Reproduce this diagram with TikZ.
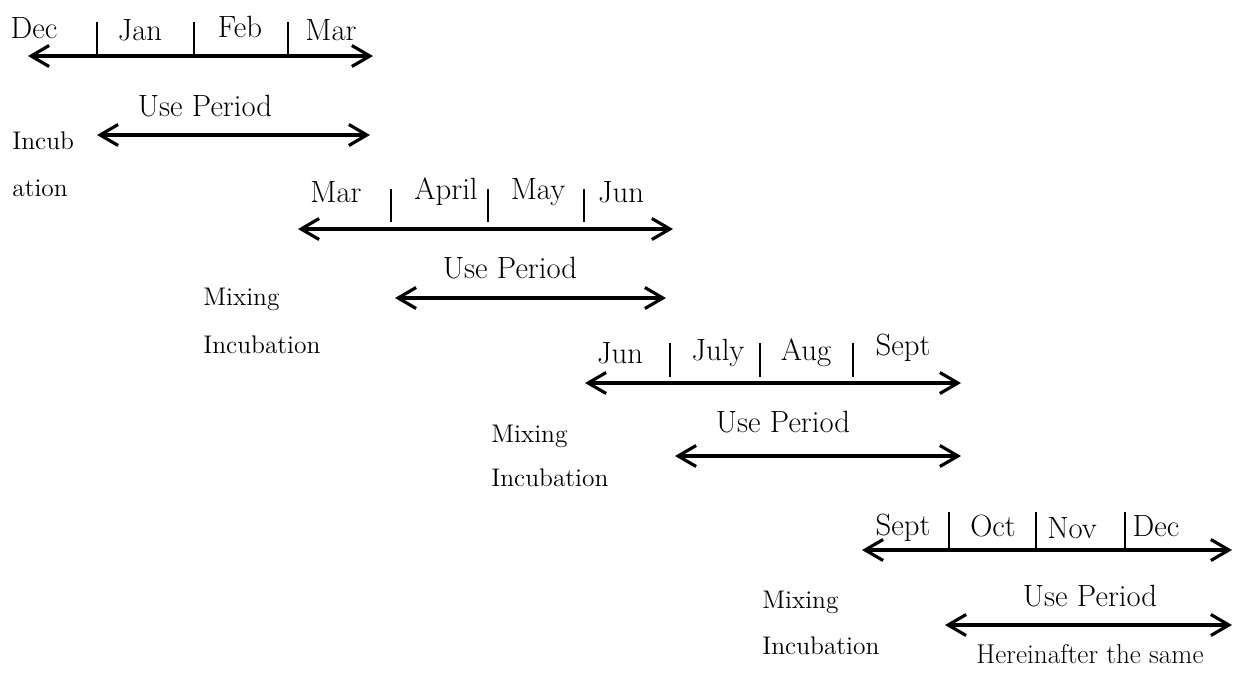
\documentclass[tikz,border=0pt]{standalone}
\usepackage{tikz}
\usetikzlibrary{arrows.meta,positioning}

\begin{document}
\begin{tikzpicture}[
      x=0.02cm, y=-0.02cm,
      mes/.style={font=\fontsize{17.5}{21}\selectfont, inner sep=1pt},
      uso/.style={font=\fontsize{17.5}{21}\selectfont, inner sep=1pt},
      nota/.style={font=\fontsize{15.5}{18}\selectfont, inner sep=1pt},
      rotulo/.style={font=\fontsize{14.5}{17}\selectfont, anchor=west, inner sep=0pt},
      seta/.style={{Straight Barb[length=3.6mm,width=4.2mm]}-{Straight Barb[length=3.6mm,width=4.2mm]}, line width=1.8pt},
      marca/.style={line width=1.1pt}
  ]
      \useasboundingbox (0,0) rectangle (1233,677);

      % --- DEC - MAR ---
      \coordinate (a1) at (28,56);  \coordinate (b1) at (373,56);
      \draw[seta] (a1) -- (b1);
      \foreach \x [count=\i] in {97,194,288} {
          \coordinate (t1\i) at (\x,22);
          \draw[marca] (t1\i) -- (t1\i |- a1);
      }
      \node[mes] (m11) at (34,28)  {Dec};
      \node[mes] (m12) at (140,30) {Jan};
      \node[mes] (m13) at (240,27) {Feb};
      \node[mes] (m14) at (331,30) {Mar};
      \node[uso] (u1) at (205,106) {Use Period};
      \coordinate (c1) at (97,135); \coordinate (d1) at (370,135);
      \draw[seta] (c1) -- (d1);
      \node[rotulo] (r1) at (12,141) {Incub};
      \node[rotulo] (s1) at (12,188) {ation};

      % --- MAR - JUN ---
      \coordinate (a2) at (298,229); \coordinate (b2) at (673,229);
      \draw[seta] (a2) -- (b2);
      \foreach \x [count=\i] in {391,488,584} {
          \coordinate (t2\i) at (\x,189);
          \draw[marca] (t2\i) -- ++(0,33) coordinate (q2\i);
      }
      \node[mes] (m21) at (336,192) {Mar};
      \node[mes] (m22) at (446,192) {April};
      \node[mes] (m23) at (538,192) {May};
      \node[mes] (m24) at (621,192) {Jun};
      \node[uso] (u2) at (510,268) {Use Period};
      \coordinate (c2) at (395,298); \coordinate (d2) at (666,298);
      \draw[seta] (c2) -- (d2);
      \node[rotulo] (r2) at (203,299) {Mixing};
      \node[rotulo] (s2) at (203,345) {Incubation};

      % --- JUN - SEPT ---
      \coordinate (a3) at (585,383); \coordinate (b3) at (961,383);
      \draw[seta] (a3) -- (b3);
      \foreach \x [count=\i] in {670,760,853} {
          \coordinate (t3\i) at (\x,343);
          \draw[marca] (t3\i) -- ++(0,34) coordinate (q3\i);
      }
      \node[mes] (m31) at (620,353) {Jun};
      \node[mes] (m32) at (718,353) {July};
      \node[mes] (m33) at (806,353) {Aug};
      \node[mes] (m34) at (903,348) {Sept};
      \node[uso] (u3) at (783,422) {Use Period};
      \coordinate (c3) at (675,456); \coordinate (d3) at (961,456);
      \draw[seta] (c3) -- (d3);
      \node[rotulo] (r3) at (491,436) {Mixing};
      \node[rotulo] (s3) at (491,478) {Incubation};

      % --- SEPT - DEC ---
      \coordinate (a4) at (862,550); \coordinate (b4) at (1232,550);
      \draw[seta] (a4) -- (b4);
      \foreach \x [count=\i] in {949,1036,1125} {
          \coordinate (t4\i) at (\x,512);
          \draw[marca] (t4\i) -- (t4\i |- a4);
      }
      \node[mes] (m41) at (903,528)  {Sept};
      \node[mes] (m42) at (993,526)  {Oct};
      \node[mes] (m43) at (1072,528) {Nov};
      \node[mes] (m44) at (1156,526) {Dec};
      \node[uso] (u4) at (1090,596) {Use Period};
      \coordinate (c4) at (945,625); \coordinate (d4) at (1232,625);
      \draw[seta] (c4) -- (d4);
      \node[rotulo] (r4) at (762,602) {Mixing};
      \node[rotulo] (s4) at (762,646) {Incubation};
      \node[nota] (h4) at (1090,654) {Hereinafter the same};

  \end{tikzpicture}
\end{document}
